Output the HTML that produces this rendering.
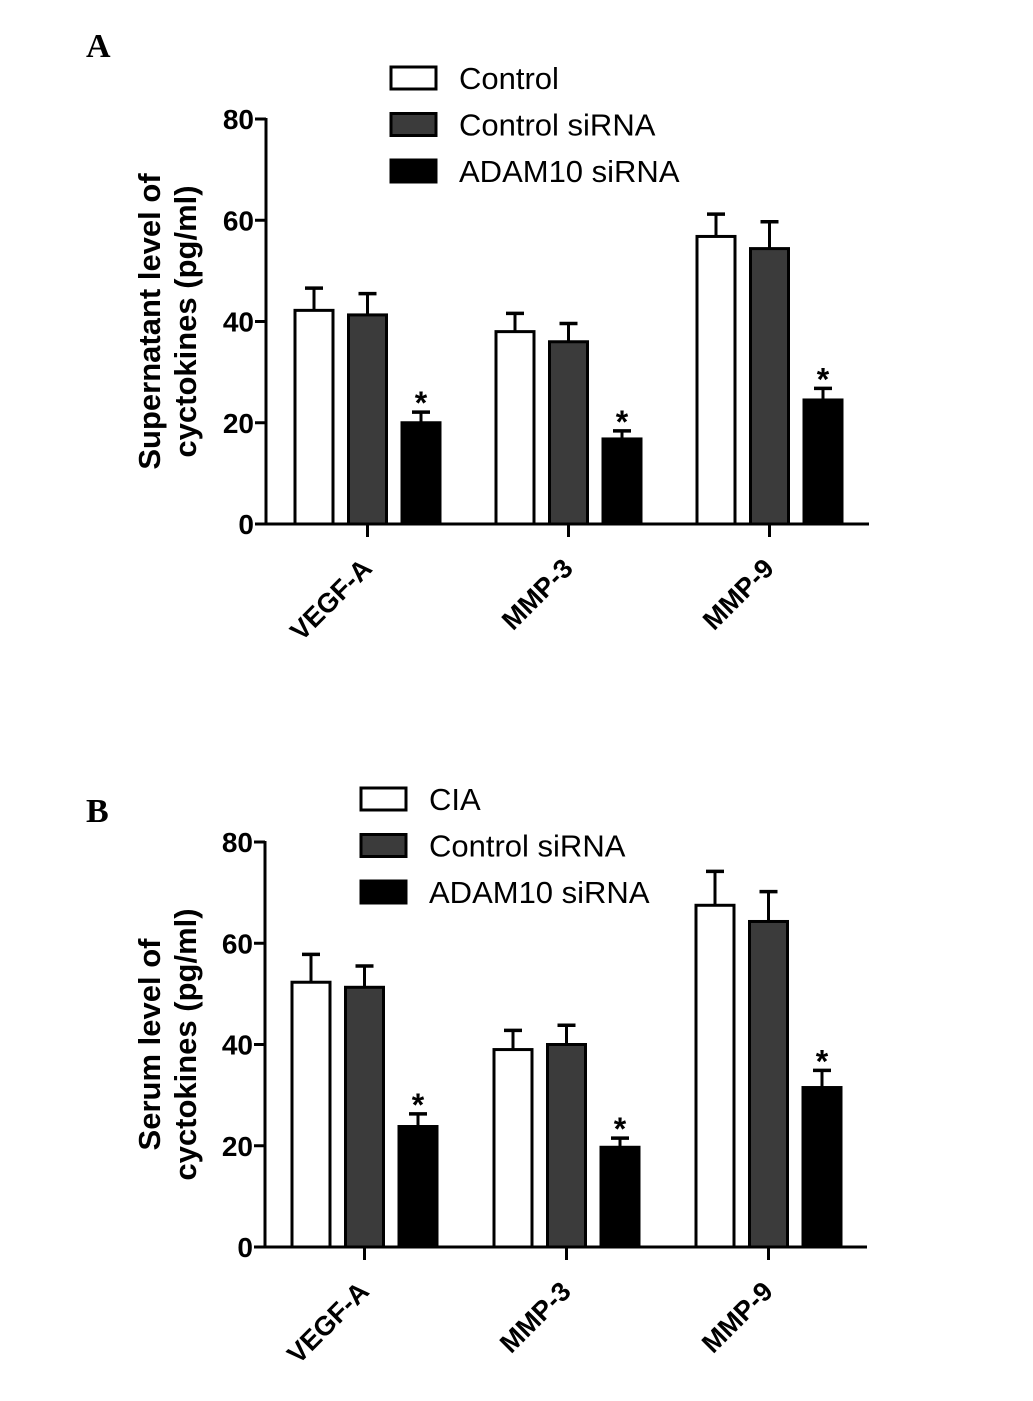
<!DOCTYPE html>
<html><head><meta charset="utf-8"><style>
html,body{margin:0;padding:0;background:#fff;}
svg{display:block;font-family:"Liberation Sans",Arial,sans-serif;}
</style></head><body>
<svg id="chart" width="1033" height="1401" viewBox="0 0 1033 1401">
<text x="86" y="57" font-family="Liberation Serif" font-weight="bold" font-size="34">A</text>
<text x="86" y="822" font-family="Liberation Serif" font-weight="bold" font-size="34">B</text>
</svg>
<script>
const categories = ["VEGF-A","MMP-3","MMP-9"];
const yTicks = [0,20,40,60,80];
const aSeriesNames = ["Control","Control siRNA","ADAM10 siRNA"];
const bSeriesNames = ["CIA","Control siRNA","ADAM10 siRNA"];
const aControl = [42.2,38,56.8];
const aControlErr = [4.4,3.6,4.4];
const aCtrlSi = [41.3,36,54.4];
const aCtrlSiErr = [4.2,3.6,5.3];
const aAdam = [20,16.8,24.5];
const aAdamErr = [2.1,1.6,2.3];
const bCia = [52.3,39,67.5];
const bCiaErr = [5.5,3.8,6.7];
const bCtrlSi = [51.3,40,64.3];
const bCtrlSiErr = [4.2,3.8,5.9];
const bAdam = [23.8,19.7,31.5];
const bAdamErr = [2.5,1.8,3.4];

const NS="http://www.w3.org/2000/svg";
const svg=document.getElementById('chart');
const fills=["#ffffff","#3b3b3b","#000000"];
function mk(tag,attrs,parent){const e=document.createElementNS(NS,tag);for(const k in attrs)e.setAttribute(k,attrs[k]);(parent||svg).appendChild(e);return e;}

function panel(cfg){
  const g=mk('g',{});
  
  
  const y=v=>cfg.y0-(v/80)*(cfg.y0-cfg.y80);
  const groupX=i=>cfg.gx0+i*cfg.gstep;
  cfg.series.forEach((vals,s)=>{
    vals.forEach((v,i)=>{
      const x=groupX(i)+s*53.5;
      const top=y(v), et=y(v+cfg.errs[s][i]);
      const ln=mk('line',{x1:x+19,x2:x+19,y1:top,y2:et,stroke:'#000','stroke-width':3},g);
      
      
      const cap=mk('line',{x1:x+10,x2:x+28,y1:et,y2:et,stroke:'#000','stroke-width':3.5},g);
      
      
      const r=mk('rect',{x:x,y:top,width:38,height:cfg.y0-top,fill:fills[s],stroke:'#000','stroke-width':3},g);
      
      
      if(s===2){const t=mk('text',{x:x+19,y:et+2,'text-anchor':'middle','font-size':32,'font-weight':'bold'},g);t.textContent='*';
        
        }
    });
  });
  const ya=mk('line',{x1:cfg.ax,x2:cfg.ax,y1:y(80)-1,y2:cfg.y0+1.5,stroke:'#000','stroke-width':3},g);
  
  
  const xa=mk('line',{x1:cfg.ax,x2:cfg.axEnd,y1:cfg.y0,y2:cfg.y0,stroke:'#000','stroke-width':3},g);
  
  
  yTicks.forEach(v=>{
    mk('line',{x1:cfg.ax-11,x2:cfg.ax,y1:y(v),y2:y(v),stroke:'#000','stroke-width':3},g);
    const t=mk('text',{x:cfg.ax-12,y:y(v)+10,'text-anchor':'end','font-size':28,'font-weight':'bold'},g);
    t.textContent=v;
    
    
  });
  categories.forEach((c,i)=>{
    const cx=groupX(i)+53.5+19;
    mk('line',{x1:cx,x2:cx,y1:cfg.y0,y2:cfg.y0+13,stroke:'#000','stroke-width':3},g);
    const t=mk('text',{x:0,y:0,'text-anchor':'end','font-size':27,'font-weight':'bold',transform:`translate(${cx+6},${cfg.y0+46}) rotate(-45)`},g);
    t.textContent=c;
    
    
  });
  const cy=(cfg.y0+y(80))/2;
  cfg.title.forEach((line,k)=>{
    const t=mk('text',{x:0,y:0,'text-anchor':'middle','font-size':31,'font-weight':'bold',transform:`translate(${cfg.tx+k*36},${cy}) rotate(-90)`},g);
    t.textContent=line;
    
    
  });
  cfg.legendNames.forEach((n,s)=>{
    const ly=cfg.ly+s*46.5;
    const r=mk('rect',{x:cfg.lx,y:ly,width:45,height:22,fill:fills[s],stroke:'#000','stroke-width':3},g);
    
    
    const t=mk('text',{x:cfg.lx+68,y:ly+22,'font-size':31},g);
    t.textContent=n;
    
    
  });
}
panel({name:'panel-a',y0:524,y80:119,ax:266,axEnd:869,gx0:295,gstep:201,
  series:[aControl,aCtrlSi,aAdam],errs:[aControlErr,aCtrlSiErr,aAdamErr],
  title:['Supernatant level of','cyctokines  (pg/ml)'],tx:160,legendNames:aSeriesNames,lx:391,ly:67});
panel({name:'panel-b',y0:1247,y80:842,ax:265,axEnd:867,gx0:292,gstep:202,
  series:[bCia,bCtrlSi,bAdam],errs:[bCiaErr,bCtrlSiErr,bAdamErr],
  title:['Serum level of','cyctokines (pg/ml)'],tx:160,legendNames:bSeriesNames,lx:361,ly:788});
</script>
</body></html>
